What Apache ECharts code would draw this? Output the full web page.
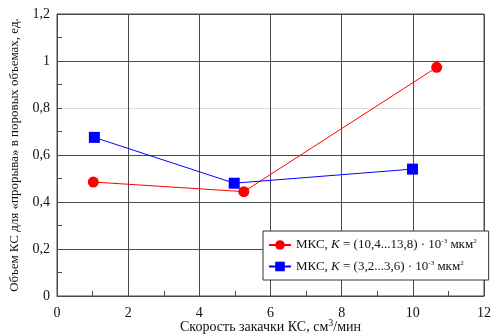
<!DOCTYPE html>
<html>
<head>
<meta charset="utf-8">
<script src="https://cdn.jsdelivr.net/npm/echarts@6/dist/echarts.min.js"></script>
<style>
  html, body { margin: 0; padding: 0; background: #fff; }
  #chart { width: 492px; height: 335px; }
</style>
</head>
<body>
<div id="chart"></div>
<script>
var seriesNames = ["МКС, K = (10,4...13,8) · 10-3 мкм2", "МКС, K = (3,2...3,6) · 10-3 мкм2"];
var redData = [[1.02, 0.485], [5.25, 0.444], [10.67, 0.973]];
var blueData = [[1.05, 0.675], [4.98, 0.48], [9.99, 0.54]];
var legendRich = [
    "{a|МКС, }{i|K}{a| = (10,4...13,8) · 10}{s|-3}{a| мкм}{s|2}",
    "{a|МКС, }{i|K}{a| = (3,2...3,6) · 10}{s|-3}{a| мкм}{s|2}"
];
var xTitle = "{a|Скорость закачки КС, см}{s|3}{a|/мин}";
var yTitle = "Объем КС для «прорыва» в поровых объемах, ед.";

var font = "'Liberation Serif', 'Times New Roman', serif";
var gridColor = "#4a4a4a";

var chart = echarts.init(document.getElementById("chart"));
chart.setOption({
    animation: false,
    textStyle: { fontFamily: font },
    grid: {
        left: 57, right: 8, top: 14, bottom: 39,
        outerBoundsMode: "none",
        containLabel: false,
        show: true, borderColor: gridColor, borderWidth: 1
    },
    xAxis: {
        type: "value", min: 0, max: 12, interval: 2,
        name: xTitle, nameLocation: "middle", nameGap: 22,
        nameMoveOverlap: false,
        nameTextStyle: {
            fontFamily: font, fontSize: 14, color: "#111",
            rich: {
                a: { fontFamily: font, fontSize: 14, color: "#111" },
                s: { fontFamily: font, fontSize: 10, color: "#111", padding: [0, 0, 8, 0] }
            }
        },
        axisLine: { show: true, lineStyle: { color: gridColor } },
        axisTick: { show: true, inside: true, length: 5, lineStyle: { color: gridColor } },
        minorTick: { show: true, splitNumber: 2, length: 5, lineStyle: { color: gridColor } },
        axisLabel: { fontFamily: font, fontSize: 14, color: "#111", margin: 10 },
        splitLine: { show: true, lineStyle: { color: gridColor, width: 1 } }
    },
    yAxis: {
        type: "value", min: 0, max: 1.2, interval: 0.2,
        name: yTitle, nameLocation: "middle", nameGap: 36,
        nameMoveOverlap: false,
        nameTextStyle: { fontFamily: font, fontSize: 13, color: "#111" },
        axisLine: { show: true, lineStyle: { color: gridColor } },
        axisTick: { show: true, inside: true, length: 5, lineStyle: { color: gridColor } },
        minorTick: { show: true, splitNumber: 2, length: 5, lineStyle: { color: gridColor } },
        axisLabel: {
            fontFamily: font, fontSize: 14, color: "#111", margin: 7,
            formatter: function(v) { return String(Math.round(v * 10) / 10).replace(".", ","); }
        },
        splitLine: {
            show: true,
            lineStyle: { color: [gridColor, gridColor, gridColor, gridColor, "#dcdcdc", gridColor, gridColor], width: 1 }
        }
    },
    legend: {
        orient: "vertical",
        left: 263, top: 231,
        backgroundColor: "#fff",
        borderColor: "#333", borderWidth: 1, borderRadius: 0,
        padding: [7, 12, 7, 5],
        itemGap: 8,
        itemWidth: 22, itemHeight: 12,
        data: seriesNames,
        formatter: function(name) { return legendRich[seriesNames.indexOf(name)]; },
        textStyle: {
            fontFamily: font, fontSize: 13, color: "#111",
            rich: {
                a: { fontFamily: font, fontSize: 13, color: "#111" },
                i: { fontFamily: font, fontSize: 13, color: "#111", fontStyle: "italic" },
                s: { fontFamily: font, fontSize: 7, color: "#111", padding: [0, 0, 7, 0] }
            }
        }
    },
    series: [
        {
            name: seriesNames[0], type: "line", data: redData,
            symbol: "circle", symbolSize: 11,
            lineStyle: { color: "#ff0000", width: 1 },
            itemStyle: { color: "#ff0000" }
        },
        {
            name: seriesNames[1], type: "line", data: blueData,
            symbol: "rect", symbolSize: 11,
            lineStyle: { color: "#0000ff", width: 1 },
            itemStyle: { color: "#0000ff" }
        }
    ]
});
</script>
</body>
</html>
